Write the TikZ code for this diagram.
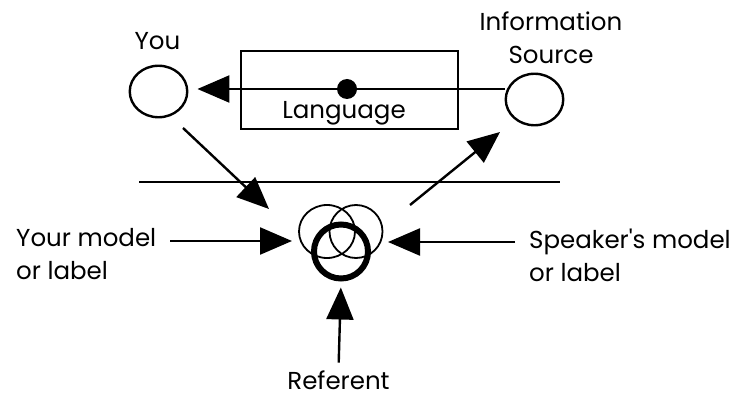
\documentclass[tikz,border=0pt]{standalone}
\usepackage{fontspec}
\setmainfont{Poppins}
\usetikzlibrary{arrows.meta,shapes.geometric}

\tikzset{
  lbl/.style={font=\fontsize{24.5}{33}\selectfont, inner sep=0pt, align=left},
  ring/.style={draw, ellipse, line width=2.4pt, minimum width=57.5pt, minimum height=51.5pt, inner sep=0pt},
  venn/.style={line width=1.8pt}
}

\begin{document}
\begin{tikzpicture}[x=1pt, y=-1pt, >={Triangle[length=32pt,width=27pt]}, line width=2.4pt]
	\useasboundingbox (0,0) rectangle (743,395);

	% speakers
	\node[ring] (you) at (158.5,91.5) {};
	\node[lbl, anchor=base] (youlbl) at (157.5,50) {You};
	\node[ring] (info) at (534.5,99.5) {};
	\node[lbl, anchor=base, align=center] (infolbl) at (551,64) {Information\\Source};

	% language channel
	\draw (241,51) rectangle (458,129);
	\node[fill, circle, minimum size=20pt, inner sep=0pt] (dot) at (347,89) {};
	\node[lbl, anchor=base] (lang) at (344,119) {Language};
	\draw[->, shorten >=9pt] (info.west |- dot) -- (you.east |- dot);

	\draw (139,182) -- (560,182);

	% referent with the two models
	\draw[venn] (327,231.5) ellipse (28pt and 26.5pt);
	\draw[venn] (356,231.5) ellipse (26.5pt and 26.5pt);
	\node[circle, draw, line width=6pt, minimum size=54pt, inner sep=0pt] (ref) at (341,251.5) {};

	\coordinate (youout) at (183,128);
	\coordinate (vnw) at (269,209);
	\coordinate (vne) at (410,205);
	\coordinate (infoin) at (500,132);
	\coordinate (vw) at (292,241);
	\coordinate (ve) at (388,242);

	\draw[->] (youout) -- (vnw);
	\draw[->] (vne) -- (infoin);

	\node[lbl, anchor=base west] (ymodel) at (15,279) {Your model\\or label};
	\node[lbl, anchor=base west] (smodel) at (528,281) {Speaker\textquotesingle s model\\or label};
	\node[lbl, anchor=base] (referent) at (338.5,389.5) {Referent};

	\draw[->, shorten <=7pt] (ymodel.east |- vw) ++(6,0) -- (vw);
	\draw[->] (smodel.west |- ve) ++(-13,0) -- (ve);
	\draw[->, shorten <=7pt, shorten >=6pt] (referent.north) -- (ref.south);
\end{tikzpicture}
\end{document}
